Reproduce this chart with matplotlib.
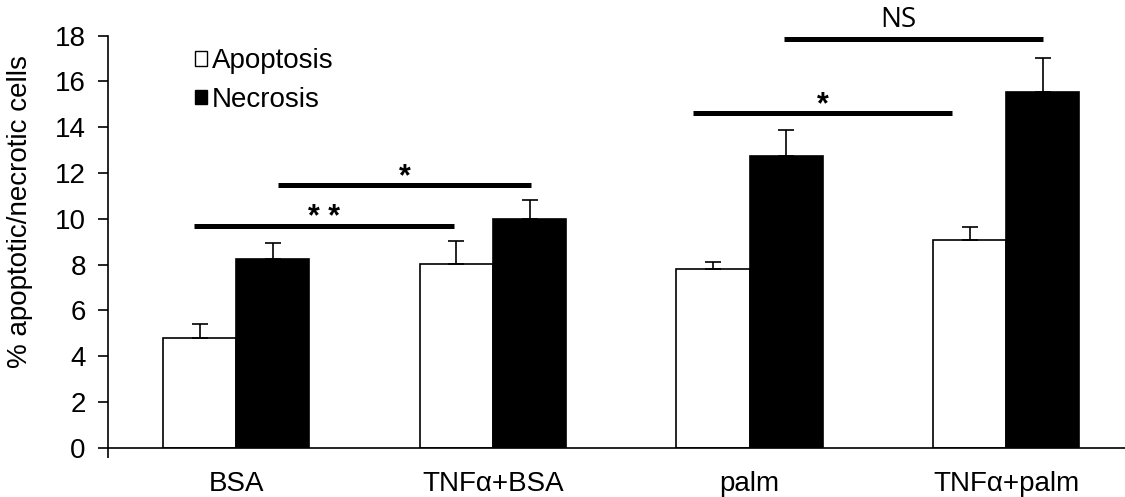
import matplotlib
matplotlib.use("Agg")
import matplotlib.pyplot as plt
import numpy as np
from matplotlib.patches import Patch

# data
groups = ["BSA", "TNFα+BSA", "palm", "TNFα+palm"]
apoptosis = [4.78, 8.02, 7.82, 9.07]
apoptosis_err = [0.62, 1.02, 0.30, 0.58]
necrosis = [8.26, 9.98, 12.74, 15.55]
necrosis_err = [0.68, 0.85, 1.14, 1.46]

# significance brackets: (x start, x end, height, label)
sig_x1 = [-0.164, 0.164, 1.778, 2.134]
sig_x2 = [0.847, 1.147, 2.789, 3.145]
sig_y = [9.67, 11.48, 14.62, 17.84]
sig_txt = ["**", "*", "*", "NS"]

plt.rcParams['font.family'] = ['Liberation Sans', 'DejaVu Sans']
FS = 20

fig = plt.figure(figsize=(11.25, 4.97), dpi=100)
ax = fig.add_axes([108 / 1125, 49.3 / 497, 1026.5 / 1125, 412 / 497])

x = np.arange(len(groups))
w = 0.285
ax.bar(x - w / 2, apoptosis, w, color='white', edgecolor='black', linewidth=1.2,
       yerr=[np.zeros(4), apoptosis_err], capsize=6,
       error_kw=dict(elinewidth=1.2, capthick=1.2, ecolor='black'), label='Apoptosis', zorder=2)
ax.bar(x + w / 2, necrosis, w, color='black', edgecolor='black', linewidth=1.2,
       yerr=[np.zeros(4), necrosis_err], capsize=6,
       error_kw=dict(elinewidth=1.2, capthick=1.2, ecolor='black'), label='Necrosis', zorder=2)

for x1, x2, y, t in zip(sig_x1, sig_x2, sig_y, sig_txt):
    ax.plot([x1, x2], [y, y], color='black', lw=3.6, solid_capstyle='butt', clip_on=False)
    if t == "NS":
        ax.text((x1 + x2) / 2 - 0.06, y + 0.25, t, ha='center', va='bottom', fontsize=FS,
                family=['Open Sans', 'DejaVu Sans'], clip_on=False)
    else:
        ax.text((x1 + x2) / 2, y - 0.3, ' '.join(t), ha='center', va='bottom', fontsize=22,
                fontweight='bold', clip_on=False)

ax.set_xlim(-0.5, 3.5)
ax.set_ylim(0, 18)
ax.set_yticks(range(0, 19, 2))
ax.set_xticks(x)
ax.set_xticklabels(groups)
ax.set_xticks([-0.5], minor=True)
ax.tick_params(axis='x', which='major', length=0, pad=17, labelsize=FS)
ax.tick_params(axis='x', which='minor', length=7, width=1.2, direction='out')
ax.tick_params(axis='y', length=7, width=1.2, direction='out', pad=9, labelsize=FS)

ax.spines['top'].set_visible(False)
ax.spines['right'].set_visible(False)
ax.spines['left'].set_linewidth(1.2)
ax.spines['bottom'].set_linewidth(1.2)

ax.set_ylabel('% apoptotic/necrotic cells', fontsize=FS)
ax.yaxis.set_label_coords(-0.073, 0.572)

handles = [Patch(facecolor='white', edgecolor='black', linewidth=1.0),
           Patch(facecolor='black', edgecolor='black', linewidth=1.0)]
ax.legend(handles, ['Apoptosis', 'Necrosis'], loc='upper left', bbox_to_anchor=(0.06, 1.03),
          frameon=False, fontsize=FS, handlelength=0.43, handleheight=0.43,
          handletextpad=0.2, labelspacing=0.45)

fig.savefig('out.png', dpi=100)
